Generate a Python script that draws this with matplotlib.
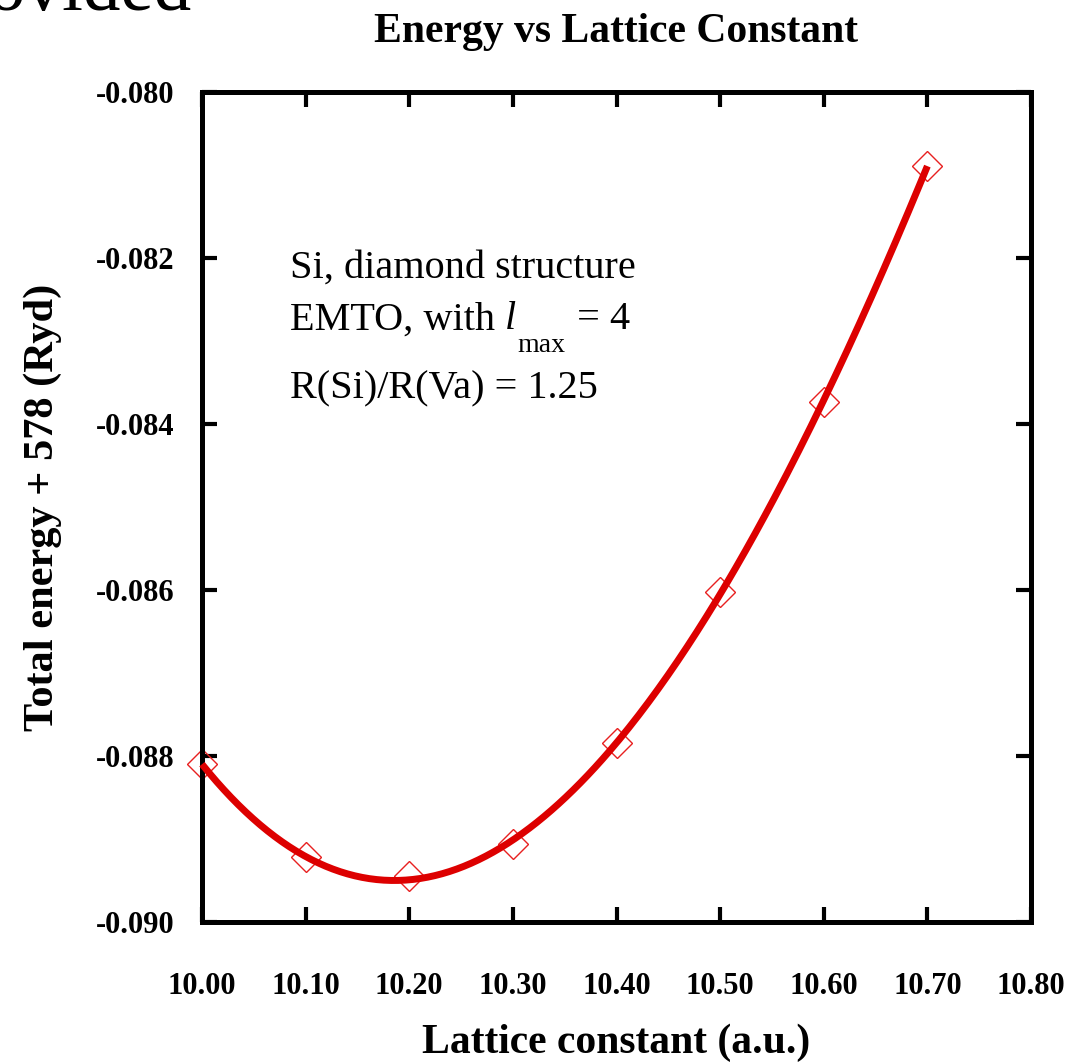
import matplotlib.pyplot as plt
import numpy as np

# ---------- data
lattice = [10.0, 10.1, 10.2, 10.3, 10.4, 10.5, 10.6, 10.7]
energy = [-0.08810, -0.08922, -0.08945, -0.08906, -0.08784,
          -0.08602, -0.08373, -0.08089]
xticks = [10.0, 10.1, 10.2, 10.3, 10.4, 10.5, 10.6, 10.7, 10.8]
yticks = [-0.090, -0.088, -0.086, -0.084, -0.082, -0.080]

serif = ['Liberation Serif', 'DejaVu Serif']
plt.rcParams['font.family'] = serif

fig = plt.figure(figsize=(10.71, 10.64), dpi=100)
ax = fig.add_axes([202 / 1071, 1 - 922 / 1064, 829 / 1071, 830 / 1064])

# smooth fit through the points (cubic)
coef = np.polyfit(lattice, energy, 3)
xf = np.linspace(lattice[0], lattice[-1], 300)
ax.plot(xf, np.polyval(coef, xf), color='#dd0000', lw=5, zorder=3,
        solid_capstyle='butt', clip_on=False)
ax.plot(lattice, energy, 'D', mfc='none', mec='#e82020', mew=1.0, ms=15,
        zorder=2, clip_on=False)

ax.set_xlim(10.0, 10.8)
ax.set_ylim(-0.090, -0.080)
ax.set_xticks(xticks)
ax.set_yticks(yticks)
ax.set_xticklabels(['%.2f' % v for v in xticks])
ax.set_yticklabels(['%.3f' % v for v in yticks])

for s in ax.spines.values():
    s.set_linewidth(3.6)
ax.tick_params(direction='in', length=11, width=3, top=True, right=True,
               labelsize=22)
ax.tick_params(axis='x', pad=36)
ax.tick_params(axis='y', pad=20)
for lab in ax.get_xticklabels() + ax.get_yticklabels():
    lab.set_fontweight('bold')

ax.set_xlabel('Lattice constant (a.u.)', fontsize=30, fontweight='bold',
              labelpad=16)
ax.set_ylabel('Total energy + 578 (Ryd)', fontsize=30.5, fontweight='bold',
              labelpad=24)
ax.set_title('Energy vs Lattice Constant', fontsize=30, fontweight='bold',
             pad=36)

# annotation block
fs = 29
x0 = 0.106
ax.text(x0, 0.776, 'Si, diamond structure', transform=ax.transAxes,
        fontsize=fs, va='baseline')
t1 = ax.text(x0, 0.714, 'EMTO, with ', transform=ax.transAxes,
             fontsize=fs, va='baseline')
t2 = ax.annotate('l', xy=(1, 0), xycoords=t1, xytext=(0, 0),
                 textcoords='offset points', fontsize=fs, style='italic',
                 va='bottom')
t3 = ax.annotate('max', xy=(1, 0), xycoords=t2, xytext=(1, -14),
                 textcoords='offset points', fontsize=20, va='bottom')
ax.annotate(' = 4', xy=(1, 0), xycoords=t3, xytext=(1, 14),
            textcoords='offset points', fontsize=fs, va='bottom')
ax.text(x0, 0.631, 'R(Si)/R(Va) = 1.25', transform=ax.transAxes,
        fontsize=fs, va='baseline')

# cropped leftover text at the top-left corner
fig.text(-0.012, 1 - 10 / 1064, 'ovided', fontsize=54, va='baseline')

fig.savefig('out.png', dpi=100)
